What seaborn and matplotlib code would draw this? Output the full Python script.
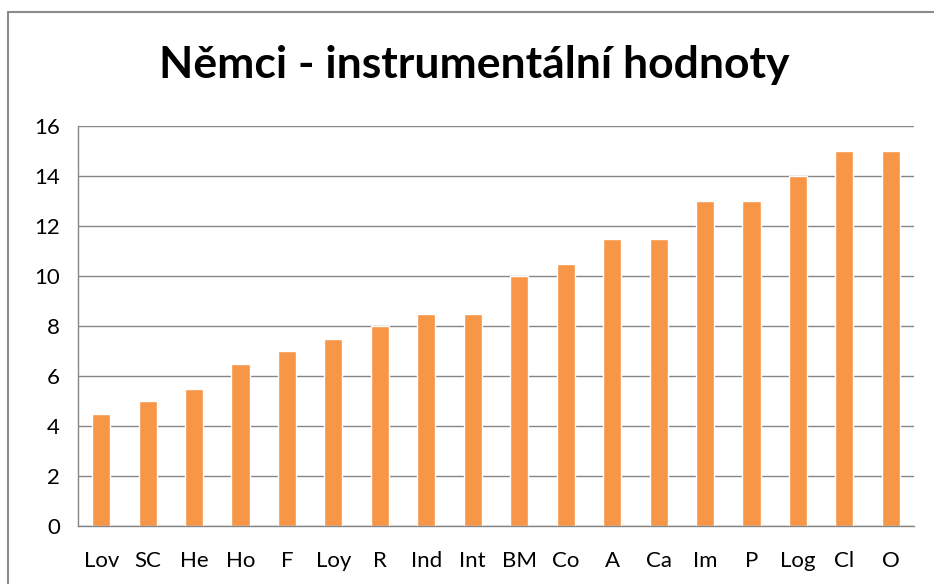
import numpy as np
import pandas as pd
import matplotlib
matplotlib.use('Agg')
import matplotlib.pyplot as plt
from matplotlib.lines import Line2D
import seaborn as sns

# chart data
categories = ['Lov', 'SC', 'He', 'Ho', 'F', 'Loy', 'R', 'Ind', 'Int', 'BM',
              'Co', 'A', 'Ca', 'Im', 'P', 'Log', 'Cl', 'O']
values = [4.5, 5, 5.5, 6.5, 7, 7.5, 8, 8.5, 8.5, 10,
          10.5, 11.5, 11.5, 13, 13, 14, 15, 15]
y_ticks = [0, 2, 4, 6, 8, 10, 12, 14, 16]
title = 'Němci - instrumentální hodnoty'

df = pd.DataFrame({'cat': categories, 'val': values})

sns.set_style('white')
plt.rcParams['font.family'] = ['Lato', 'DejaVu Sans']
plt.rcParams['text.color'] = 'black'
plt.rcParams['xtick.color'] = 'black'
plt.rcParams['ytick.color'] = 'black'

fig = plt.figure(figsize=(9.34, 5.84), dpi=100)
ax = fig.add_axes([0.0835, 0.0993, 0.8951, 0.6849])

sns.barplot(data=df, x='cat', y='val', color='#F79646', saturation=1,
            width=0.39, ax=ax)

grey = '#868686'
ax.set_ylim(0, 16)
ax.set_xlim(-0.5, len(categories) - 0.5)
ax.set_yticks(y_ticks)
ax.set_yticklabels([str(t) for t in y_ticks], fontsize=16)
ax.grid(axis='y', color=grey, linewidth=1)
ax.set_axisbelow(True)
ax.tick_params(axis='y', length=7, color=grey, width=1, pad=6,
               labelcolor='black')
ax.tick_params(axis='x', which='major', length=0, labelsize=16, pad=18,
               labelcolor='black')
ax.set_xticks(np.arange(-0.5, len(categories)), minor=True)
ax.tick_params(axis='x', which='minor', length=7, color=grey, width=1)
for side in ['top', 'right']:
    ax.spines[side].set_visible(False)
for side in ['left', 'bottom']:
    ax.spines[side].set_color(grey)
    ax.spines[side].set_linewidth(1)
ax.set_xlabel('')
ax.set_ylabel('')

fig.text(0.508, 0.888, title, ha='center', va='center', fontsize=32,
         fontweight='bold', color='black')

# outer chart border (left and top edges visible)
fig.add_artist(Line2D([8 / 934, 8 / 934], [0, 1 - 12 / 584],
                      transform=fig.transFigure, color='#8c8c8c', lw=1.5))
fig.add_artist(Line2D([8 / 934, 1], [1 - 12 / 584, 1 - 12 / 584],
                      transform=fig.transFigure, color='#8c8c8c', lw=1.5))

plt.savefig('out.png', dpi=100)
plt.close()
